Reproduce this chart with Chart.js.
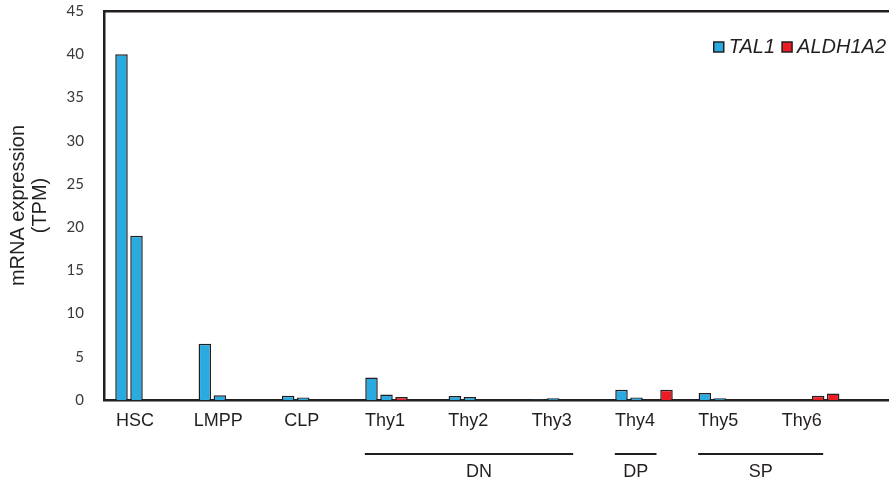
<!DOCTYPE html>
<html>
<head>
<meta charset="utf-8">
<script src="https://cdn.jsdelivr.net/npm/chart.js@4.4.1/dist/chart.umd.min.js"></script>
<style>
  html, body { margin: 0; padding: 0; background: #fff; }
  #wrap { width: 889px; height: 488px; }
</style>
</head>
<body>
<div id="wrap"><canvas id="tpm-chart"></canvas></div>
<script>
// cell populations along the x axis
const categories = ['HSC', 'LMPP', 'CLP', 'Thy1', 'Thy2', 'Thy3', 'Thy4', 'Thy5', 'Thy6'];

// TPM values, two replicates per gene
const tal1Rep1 = [40, 6.5, 0.5, 2.6, 0.45, 0.05, 1.2, 0.8, 0];
const tal1Rep2 = [19, 0.55, 0.3, 0.65, 0.35, 0.2, 0.3, 0.2, 0];
const aldhRep1 = [0, 0, 0, 0.35, 0, 0, 0, 0, 0.5];
const aldhRep2 = [0, 0, 0, 0, 0, 0, 1.2, 0, 0.75];

const yTicks = [0, 5, 10, 15, 20, 25, 30, 35, 40, 45];

// thymocyte stage brackets (category index ranges)
const groupNames = ['DN', 'DP', 'SP'];
const groupStart = [3, 6, 7];
const groupEnd = [5, 6, 8];

const BLUE = '#29abe2';
const RED = '#ed1c24';
const INK = '#231f20';
const FONT = "'Liberation Sans', Arial, sans-serif";

const toPoints = arr => arr.map((v, i) => ({ x: i, y: v }));

function barSet(label, values, color) {
    return {
        label: label,
        data: toPoints(values),
        backgroundColor: color,
        borderColor: INK,
        borderWidth: 1.5,
        borderSkipped: 'bottom',
        categoryPercentage: 0.72,
        barPercentage: 0.833
    };
}

// DN / DP / SP brackets under the axis
const stageBrackets = {
    id: 'stageBrackets',
    afterDraw(chart) {
        const x = chart.scales.x;
        const ctx = chart.ctx;
        ctx.save();
        ctx.strokeStyle = INK;
        ctx.lineWidth = 2;
        ctx.fillStyle = INK;
        ctx.font = '18px ' + FONT;
        ctx.textAlign = 'center';
        ctx.textBaseline = 'middle';
        groupNames.forEach((name, i) => {
            const x1 = x.getPixelForValue(groupStart[i] - 0.35);
            const x2 = x.getPixelForValue(groupEnd[i] + 0.15);
            ctx.beginPath();
            ctx.moveTo(x1, 454);
            ctx.lineTo(x2, 454);
            ctx.stroke();
            ctx.fillText(name, (x1 + x2) / 2 + (i === 0 ? 10 : 0), 472);
        });
        ctx.restore();
    }
};

// small legend in the top right corner, one entry per gene
const cornerLegend = {
    id: 'cornerLegend',
    afterDraw(chart) {
        const ctx = chart.ctx;
        const seen = [];
        chart.data.datasets.forEach(d => {
            if (!seen.find(s => s.label === d.label)) seen.push(d);
        });
        ctx.save();
        ctx.font = 'italic 20px ' + FONT;
        ctx.textBaseline = 'middle';
        ctx.textAlign = 'left';
        let right = 886;
        const cy = 47;
        for (let i = seen.length - 1; i >= 0; i--) {
            const d = seen[i];
            const w = ctx.measureText(d.label).width;
            const tx = right - w;
            ctx.fillStyle = INK;
            ctx.fillText(d.label, tx, cy);
            const bx = tx - 5 - 10;
            ctx.fillStyle = d.backgroundColor;
            ctx.fillRect(bx, cy - 5, 10, 10);
            ctx.strokeStyle = INK;
            ctx.lineWidth = 1.5;
            ctx.strokeRect(bx, cy - 5, 10, 10);
            right = bx - 7;
        }
        ctx.restore();
    }
};

const ctx = document.getElementById('tpm-chart').getContext('2d');
new Chart(ctx, {
    type: 'bar',
    data: {
        datasets: [
            barSet('TAL1', tal1Rep1, BLUE),
            barSet('TAL1', tal1Rep2, BLUE),
            barSet('ALDH1A2', aldhRep1, RED),
            barSet('ALDH1A2', aldhRep2, RED)
        ]
    },
    options: {
        responsive: true,
        maintainAspectRatio: false,
        animation: false,
        events: [],
        layout: { padding: { top: 11, right: 0, left: 0, bottom: 0 } },
        scales: {
            x: {
                type: 'linear',
                position: 'bottom',
                offset: false,
                min: -0.48,
                max: 8.94,
                grid: { display: false, drawTicks: false, offset: false },
                border: { display: true, color: INK, width: 2.5 },
                ticks: {
                    stepSize: 1,
                    includeBounds: false,
                    autoSkip: false,
                    maxRotation: 0,
                    padding: 10,
                    labelOffset: -9,
                    color: INK,
                    font: { family: FONT, size: 18 },
                    callback: v => (Number.isInteger(v) && categories[v]) ? categories[v] : ''
                },
                afterFit: s => { s.height = 88; }
            },
            xTop: {
                type: 'linear',
                position: 'top',
                min: 0,
                max: 1,
                grid: { display: false, drawTicks: false },
                border: { display: true, color: INK, width: 2.5 },
                ticks: { display: false },
                afterFit: s => { s.height = 0; }
            },
            y: {
                min: 0,
                max: 45,
                grid: { display: false, drawTicks: false },
                border: { display: true, color: INK, width: 2.5 },
                afterBuildTicks: s => { s.ticks = yTicks.map(v => ({ value: v })); },
                ticks: {
                    padding: 20,
                    color: '#3a3a3a',
                    font: { family: 'Lato, sans-serif', size: 15 }
                },
                title: {
                    display: true,
                    text: ['mRNA expression', '(TPM)'],
                    color: INK,
                    padding: { top: 7, bottom: 0 },
                    font: { family: FONT, size: 20, lineHeight: 1.1 }
                },
                afterFit: s => {
                    s.width = 104;
                    s.paddingTop = 0;
                    s.paddingBottom = 0;
                }
            }
        },
        plugins: {
            tooltip: { enabled: false },
            legend: { display: false }
        }
    },
    plugins: [stageBrackets, cornerLegend]
});
</script>
</body>
</html>
